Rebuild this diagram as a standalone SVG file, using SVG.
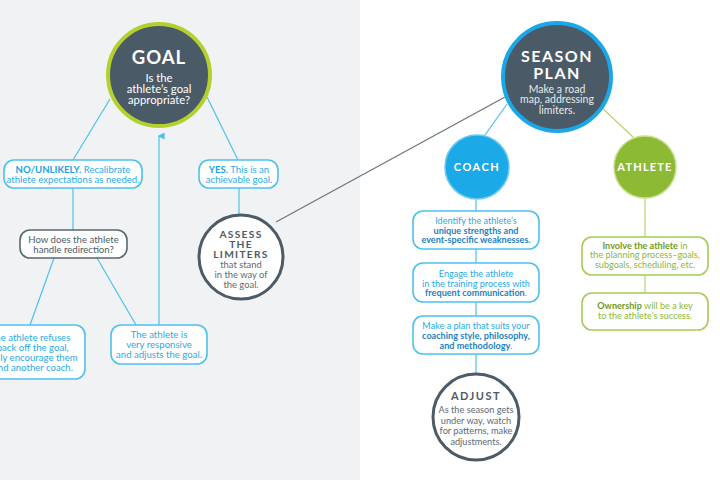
<svg xmlns="http://www.w3.org/2000/svg" width="720" height="480" viewBox="0 0 720 480">
<defs>
<style>
text{font-family:Lato,"Open Sans","Liberation Sans",sans-serif;text-anchor:middle}
.bl{stroke:#4cc1f0;stroke-width:1.2;fill:none}
.gr{stroke:#b7d36a;stroke-width:1.2;fill:none}
.bbox{fill:#fff;stroke:#4cc1f0;stroke-width:1.6}
.gbox{fill:#fff;stroke:#a9cb53;stroke-width:1.6}
.tb{fill:#29abe6;font-size:9.6px}
.tr{fill:#29abe6;font-size:9.1px}
.tbb{fill:#1b7fc0;font-weight:bold}
.tg{fill:#8ab837;font-size:9.1px}
.tgb{fill:#6f9a22;font-weight:bold}
.big{fill:#fff;font-weight:bold}
.wt{fill:#fff}
.sub{fill:#e6eaee}
.dark{fill:#4d5b66}
.cap{fill:#4d5b66;font-size:10.2px;font-weight:bold;letter-spacing:1.3px}
.small{fill:#5d6a74;font-size:9.4px}
</style>
<marker id="arr" viewBox="0 0 10 10" refX="5" refY="2" markerWidth="7" markerHeight="7" orient="auto-start-reverse" markerUnits="userSpaceOnUse">
<path d="M0,10 L5,0 L10,10 Z" fill="#4cc1f0"/>
</marker>
</defs>
<rect x="0" y="0" width="720" height="480" fill="#fff"/>
<rect x="0" y="0" width="360" height="480" fill="#f1f2f4"/>

<g id="connectors">
<line class="bl" x1="110" y1="99" x2="73" y2="160"/>
<line class="bl" x1="207" y1="97" x2="238" y2="160"/>
<line class="bl" x1="73" y1="188" x2="73" y2="230"/>
<line class="bl" x1="239" y1="188" x2="239" y2="215"/>
<line class="bl" x1="54" y1="258" x2="30" y2="325"/>
<line class="bl" x1="97" y1="258" x2="136" y2="325"/>
<line class="bl" x1="159" y1="325" x2="159" y2="136" marker-end="url(#arr)"/>
<line x1="276" y1="222" x2="505" y2="97" stroke="#6b7780" stroke-width="1.3"/>
<line class="bl" x1="507" y1="104" x2="485" y2="135"/>
<line class="gr" x1="600" y1="106" x2="633" y2="137"/>
<line class="bl" x1="476" y1="200" x2="476" y2="211"/>
<line class="bl" x1="476" y1="249" x2="476" y2="263"/>
<line class="bl" x1="476" y1="302" x2="476" y2="316"/>
<line class="bl" x1="476" y1="354" x2="476" y2="374"/>
<line class="gr" x1="645" y1="199" x2="645" y2="237"/>
<line class="gr" x1="645" y1="275" x2="645" y2="293"/>
</g>

<g id="goal">
<circle cx="159" cy="75" r="51" fill="#4a5a66" stroke="#b3d12e" stroke-width="4"/>
<text x="159" y="63.5" class="big" font-size="18.5" letter-spacing="1">GOAL</text>
<text x="159" y="82" class="wt" font-size="11.3">Is the</text>
<text x="159" y="93" class="wt" font-size="11.3">athlete’s goal</text>
<text x="159" y="104" class="wt" font-size="11.3">appropriate?</text>
</g>

<g id="no-unlikely">
<rect x="4" y="160" width="138" height="28" rx="10" class="bbox"/>
<text x="73" y="172.5" class="tb"><tspan font-weight="bold" fill="#1aa3e3">NO/UNLIKELY.</tspan> Recalibrate</text>
<text x="73" y="183" class="tb">athlete expectations as needed.</text>
</g>

<g id="yes">
<rect x="199" y="160" width="79" height="28" rx="10" class="bbox"/>
<text x="239" y="172.5" class="tb"><tspan font-weight="bold" fill="#1aa3e3">YES.</tspan> This is an</text>
<text x="239" y="183" class="tb">achievable goal.</text>
</g>

<g id="redirection">
<rect x="20" y="230" width="107" height="28" rx="10" fill="#fff" stroke="#5a6770" stroke-width="1.6"/>
<text x="73.5" y="242.5" class="dark" font-size="9.6">How does the athlete</text>
<text x="73.5" y="253" class="dark" font-size="9.6">handle redirection?</text>
</g>

<g id="refuses">
<rect x="-40" y="325" width="125" height="54" rx="10" class="bbox"/>
<text x="27" y="341" class="tb" font-size="9.3">If the athlete refuses</text>
<text x="27" y="351" class="tb" font-size="9.3">to back off the goal,</text>
<text x="27" y="361" class="tb" font-size="9.3">politely encourage them</text>
<text x="27" y="371" class="tb" font-size="9.3">to find another coach.</text>
</g>

<g id="responsive">
<rect x="111" y="325" width="96" height="39" rx="10" class="bbox"/>
<text x="159" y="337.5" class="tb">The athlete is</text>
<text x="159" y="347.5" class="tb">very responsive</text>
<text x="159" y="357.5" class="tb">and adjusts the goal.</text>
</g>

<g id="assess">
<circle cx="241" cy="257" r="42" fill="#fff" stroke="#4d5b66" stroke-width="3"/>
<text x="241" y="237.5" class="cap">ASSESS</text>
<text x="241" y="247.8" class="cap">THE</text>
<text x="241" y="258.1" class="cap">LIMITERS</text>
<text x="241" y="268.4" class="small">that stand</text>
<text x="241" y="278.4" class="small">in the way of</text>
<text x="241" y="288.4" class="small">the goal.</text>
</g>

<g id="season-plan">
<circle cx="557" cy="77" r="54" fill="#4a5a66" stroke="#1aa7e8" stroke-width="4"/>
<text x="557" y="62" class="big" font-size="16" letter-spacing="1.5">SEASON</text>
<text x="557" y="78.5" class="big" font-size="16" letter-spacing="1.5">PLAN</text>
<text x="557" y="92.5" class="sub" font-size="10.5">Make a road</text>
<text x="557" y="103" class="sub" font-size="10.5">map, addressing</text>
<text x="557" y="113.5" class="sub" font-size="10.5">limiters.</text>
</g>

<g id="coach">
<circle cx="477" cy="167" r="32" fill="#1ba9e8" stroke="#6cc9f1" stroke-width="1.5"/>
<text x="477" y="171" class="big" font-size="11" letter-spacing="1.5">COACH</text>
</g>

<g id="coach-1">
<rect x="413" y="211" width="126" height="38" rx="10" class="bbox"/>
<text x="476" y="224" class="tr">Identify the athlete’s</text>
<text x="476" y="233.5" class="tr"><tspan class="tbb">unique strengths and</tspan></text>
<text x="476" y="243" class="tr"><tspan class="tbb">event-specific weaknesses.</tspan></text>
</g>

<g id="coach-2">
<rect x="413" y="263" width="126" height="39" rx="10" class="bbox"/>
<text x="476" y="277" class="tr">Engage the athlete</text>
<text x="476" y="286.5" class="tr">in the training process with</text>
<text x="476" y="296" class="tr"><tspan class="tbb">frequent communication</tspan>.</text>
</g>

<g id="coach-3">
<rect x="413" y="316" width="126" height="38" rx="10" class="bbox"/>
<text x="476" y="328.5" class="tr">Make a plan that suits your</text>
<text x="476" y="338.5" class="tr"><tspan class="tbb">coaching style, philosophy,</tspan></text>
<text x="476" y="348.5" class="tr"><tspan class="tbb">and methodology</tspan>.</text>
</g>

<g id="adjust">
<circle cx="476" cy="417" r="43" fill="#fff" stroke="#4d5b66" stroke-width="3"/>
<text x="476" y="400" class="dark" font-size="11" font-weight="bold" letter-spacing="1.5">ADJUST</text>
<text x="476" y="413" fill="#5d6a74" font-size="9.2">As the season gets</text>
<text x="476" y="423.5" fill="#5d6a74" font-size="9.2">under way, watch</text>
<text x="476" y="434" fill="#5d6a74" font-size="9.2">for patterns, make</text>
<text x="476" y="444.5" fill="#5d6a74" font-size="9.2">adjustments.</text>
</g>

<g id="athlete">
<circle cx="645" cy="167" r="31" fill="#8dba35" stroke="#c9df90" stroke-width="1.5"/>
<text x="645" y="171" class="big" font-size="11" letter-spacing="1.2">ATHLETE</text>
</g>

<g id="athlete-1">
<rect x="582" y="237" width="126" height="38" rx="10" class="gbox"/>
<text x="645" y="248.5" class="tg"><tspan class="tgb">Involve the athlete</tspan> in</text>
<text x="645" y="258" class="tg">the planning process–goals,</text>
<text x="645" y="268" class="tg">subgoals, scheduling, etc.</text>
</g>

<g id="athlete-2">
<rect x="582" y="293" width="126" height="37" rx="10" class="gbox"/>
<text x="645" y="309" class="tg"><tspan class="tgb">Ownership</tspan> will be a key</text>
<text x="645" y="319" class="tg">to the athlete’s success.</text>
</g>
</svg>
